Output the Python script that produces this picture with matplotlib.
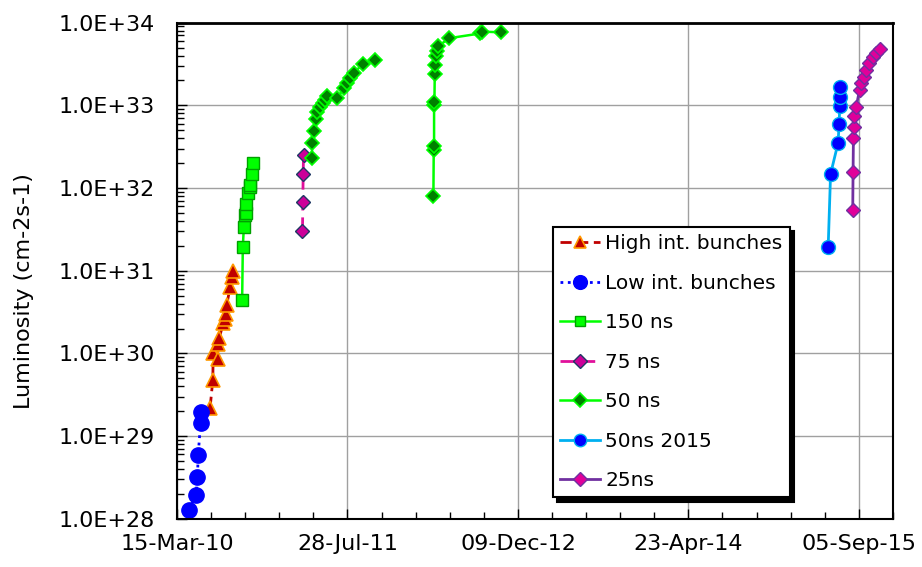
import matplotlib
matplotlib.use('Agg')
import matplotlib.pyplot as plt
import matplotlib.dates as mdates
from matplotlib.ticker import FuncFormatter, LogLocator, NullFormatter
import pandas as pd

# luminosity values (cm-2 s-1)
low_dates = ['2010-04-19', '2010-05-10', '2010-05-14', '2010-05-16', '2010-05-23', '2010-05-25']
low_lumi = [1.28e28, 1.95e28, 3.2e28, 5.9e28, 1.43e29, 1.95e29]

high_dates = ['2010-06-20', '2010-06-28', '2010-06-29', '2010-07-12', '2010-07-13', '2010-07-17',
              '2010-07-29', '2010-08-02', '2010-08-06', '2010-08-08', '2010-08-18', '2010-08-24',
              '2010-08-25']
high_lumi = [2.2e29, 4.8e29, 1.0e30, 8.5e29, 1.3e30, 1.55e30,
             2.35e30, 2.6e30, 3.0e30, 3.9e30, 6.4e30, 8.3e30,
             1.0e31]

ns150_dates = ['2010-09-22', '2010-09-24', '2010-09-27', '2010-10-01', '2010-10-03', '2010-10-04',
               '2010-10-10', '2010-10-14', '2010-10-16', '2010-10-20', '2010-10-25']
ns150_lumi = [4.4e30, 1.95e31, 3.36e31, 4.7e31, 5.0e31, 6.5e31,
              8.6e31, 1.02e32, 1.1e32, 1.48e32, 2.0e32]

ns75_dates = ['2011-03-18', '2011-03-19', '2011-03-20', '2011-03-21']
ns75_lumi = [3.0e31, 6.7e31, 1.48e32, 2.5e32]

# 2011 and 2012 runs, gap between them
ns50_dates = ['2011-04-14', '2011-04-16', '2011-04-22', '2011-04-26', '2011-04-30', '2011-05-08',
              '2011-05-16', '2011-05-23', '2011-05-28', '2011-06-26', '2011-07-19', '2011-07-26',
              '2011-08-04', '2011-08-16', '2011-09-11', '2011-10-17',
              '2012-01-01',
              '2012-04-05', '2012-04-06', '2012-04-07', '2012-04-07', '2012-04-08', '2012-04-09',
              '2012-04-10', '2012-04-12', '2012-04-15', '2012-04-19', '2012-05-22', '2012-08-20',
              '2012-08-25', '2012-10-19']
ns50_lumi = [2.3e32, 3.5e32, 4.9e32, 6.8e32, 8.4e32, 9.5e32,
             1.06e33, 1.16e33, 1.3e33, 1.22e33, 1.61e33, 1.85e33,
             2.13e33, 2.45e33, 3.2e33, 3.5e33,
             float('nan'),
             8.0e31, 2.9e32, 3.2e32, 1.01e33, 1.1e33, 2.4e33,
             3.08e33, 3.9e33, 4.5e33, 5.2e33, 6.5e33, 7.4e33,
             7.8e33, 7.65e33]

ns50_2015_dates = ['2015-06-07', '2015-06-14', '2015-07-06', '2015-07-09', '2015-07-11', '2015-07-12',
                   '2015-07-13']
ns50_2015_lumi = [1.95e31, 1.48e32, 3.5e32, 5.96e32, 9.8e32, 1.27e33, 1.68e33]

ns25_dates = ['2015-08-18', '2015-08-19', '2015-08-20', '2015-08-21', '2015-08-22', '2015-08-28',
              '2015-09-07', '2015-09-12', '2015-09-20', '2015-09-27', '2015-10-06', '2015-10-16',
              '2015-10-26', '2015-11-07']
ns25_lumi = [5.4e31, 1.58e32, 4.0e32, 5.4e32, 7.4e32, 9.5e32,
             1.54e33, 1.85e33, 2.2e33, 2.68e33, 3.23e33, 3.88e33,
             4.34e33, 4.8e33]

fig = plt.figure(figsize=(9.22, 5.67), dpi=100)
ax = fig.add_axes([0.192, 0.085, 0.7765, 0.875])

d = pd.to_datetime
ax.plot(d(high_dates), high_lumi, ls=(0, (4, 2)), color='#C00000', lw=2, marker='^', ms=10,
        mfc='#C00000', mec='#FF9900', mew=1.2, label='High int. bunches')
ax.plot(d(low_dates), low_lumi, ls=':', color='#0000FF', lw=2, marker='o', ms=11,
        mfc='#0000FF', mec='#0000FF', label='Low int. bunches')
ax.plot(d(ns150_dates), ns150_lumi, ls='-', color='#00FF00', lw=1.8, marker='s', ms=8.5,
        mfc='#00FF00', mec='#00A000', mew=1, label='150 ns')
ax.plot(d(ns75_dates), ns75_lumi, ls=(0, (5, 2.5)), color='#E0109B', lw=2, marker='D', ms=7.5,
        mfc='#CC0099', mec='#1F3864', mew=1, label='75 ns')
ax.plot(d(ns50_dates), ns50_lumi, ls='-', color='#00FF00', lw=1.8, marker='D', ms=7.5,
        mfc='#008000', mec='#00FF00', mew=1.2, label='50 ns')
ax.plot(d(ns50_2015_dates), ns50_2015_lumi, ls='-', color='#00B0F0', lw=2, marker='o', ms=10,
        mfc='#0000FF', mec='#00B0F0', mew=1, label='50ns 2015')
ax.plot(d(ns25_dates), ns25_lumi, ls='-', color='#7030A0', lw=2, marker='D', ms=7.5,
        mfc='#E0009A', mec='#7030A0', mew=1, label='25ns')

ax.set_yscale('log')
ax.set_ylim(1e28, 1e34)
ax.yaxis.set_major_locator(LogLocator(base=10, numticks=10))
ax.yaxis.set_minor_locator(LogLocator(base=10, subs=range(2, 10), numticks=20))
ax.yaxis.set_major_formatter(FuncFormatter(lambda v, p: f'{v:.1E}'))
ax.yaxis.set_minor_formatter(NullFormatter())

start = pd.Timestamp('2010-03-15')
ax.set_xlim(start, pd.Timestamp('2015-12-14'))
ax.set_xticks(pd.date_range(start, periods=5, freq='500D'))
ax.set_xticks(pd.date_range(start, periods=22, freq='100D'), minor=True)
ax.xaxis.set_major_formatter(mdates.DateFormatter('%d-%b-%y'))

ax.grid(True, which='major', color='#a0a0a0', lw=1)
ax.tick_params(which='both', direction='in', labelsize=16, colors='black')
ax.tick_params(which='major', length=7, width=1)
ax.tick_params(which='minor', length=5, width=1)
ax.tick_params(axis='y', pad=16)
ax.tick_params(axis='x', pad=11)
for s in ax.spines.values():
    s.set_linewidth(1.5)
ax.spines['top'].set_linewidth(2)

ax.set_ylabel('Luminosity (cm-2s-1)', fontsize=16)
ax.yaxis.set_label_coords(-0.2, 0.46)

leg = ax.legend(loc='upper left', bbox_to_anchor=(0.525, 0.588), fontsize=14.5,
                frameon=True, fancybox=False, edgecolor='black', borderaxespad=0,
                borderpad=0.35, labelspacing=1.02, handlelength=2.0, handletextpad=0.25,
                markerscale=0.9, shadow={'color': 'black', 'alpha': 1, 'ox': 3, 'oy': -3})
leg.get_frame().set_linewidth(1.5)
leg.get_frame().set_alpha(1)

fig.savefig('out.png', dpi=100)
